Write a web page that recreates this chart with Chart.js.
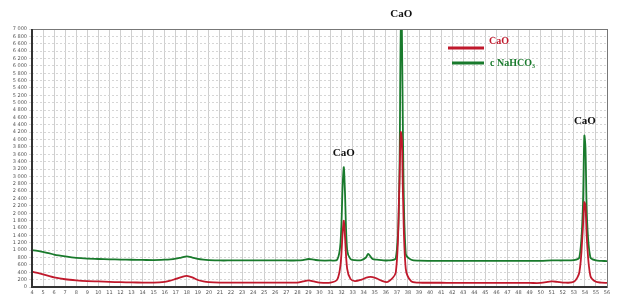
<!DOCTYPE html>
<html>
<head>
<meta charset="utf-8">
<script src="https://cdn.jsdelivr.net/npm/chart.js@4/dist/chart.umd.min.js"></script>
<style>
html,body{margin:0;padding:0;background:#fff;}
#wrap{width:625px;height:300px;position:relative;}
</style>
</head>
<body>
<div id="wrap"><canvas id="c" width="625" height="300"></canvas></div>
<script>
// 2-theta positions (degrees)
const twoTheta = [4,4.5,5,5.5,6,7,8,9,10,11,12,13,14,15,16,16.5,17,17.5,18,18.5,19,19.5,20,21,22,23,24,25,26,27,28,28.5,29,29.5,30,31,31.6,31.9,32.1,32.2,32.3,32.5,32.8,33.2,33.8,34.2,34.4,34.8,35.2,35.6,36.2,36.9,37.2,37.35,37.45,37.55,37.8,38.3,39,40,41,42,43,44,45,46,47,48,49,50,51,51.5,52,53,53.5,53.8,53.95,54.05,54.2,54.5,55,55.5,56];
// intensities: CaO (red)
const caO = [420,380,340,300,260,210,180,160,150,140,130,125,120,120,140,170,220,270,300,260,190,150,130,120,120,120,120,120,120,120,120,150,180,150,120,120,200,600,1500,1800,1400,500,220,160,200,250,270,270,230,170,140,400,2500,4200,4000,2500,500,150,120,115,115,110,110,110,110,110,110,110,110,110,150,140,120,140,400,1500,2300,2200,1200,300,140,120,110];
// intensities: c NaHCO3 (green)
const naHCO3 = [1000,980,950,920,880,830,790,770,760,750,745,740,735,730,740,750,770,800,830,800,760,740,730,720,720,720,720,720,720,720,720,730,760,740,720,720,740,1200,2800,3250,2600,1000,760,730,730,800,900,760,740,730,720,780,2500,7000,7000,4000,900,740,715,710,710,710,710,710,710,710,710,710,710,710,720,720,720,730,800,2000,4100,3800,1800,800,720,710,700];
const xTickLabels = ["4","5","6","7","8","9","10","11","12","13","14","15","16","17","18","19","20","21","22","23","24","25","26","27","28","29","30","31","32","33","34","35","36","37","38","39","40","41","42","43","44","45","46","47","48","49","50","51","52","53","54","55","56"];
const yTickLabels = ["0","200","400","600","800","1 000","1 200","1 400","1 600","1 800","2 000","2 200","2 400","2 600","2 800","3 000","3 200","3 400","3 600","3 800","4 000","4 200","4 400","4 600","4 800","5 000","5 200","5 400","5 600","5 800","6 000","6 200","6 400","6 600","6 800","7 000"];
const peakLabels = [{x:32.2,y:3250,text:"CaO"},{x:37.4,y:7000,text:"CaO"},{x:54.0,y:4100,text:"CaO"}];
const seriesNames = ["CaO","c NaHCO\u2083"];
const seriesColors = ["#c0192c","#197a2c"];

const extras = {
  id:'extras',
  afterDraw(chart){
    const ctx = chart.ctx, a = chart.chartArea;
    const xs = chart.scales.x, ys = chart.scales.y;
    ctx.save();
    // frame
    ctx.strokeStyle = '#777'; ctx.lineWidth = 1;
    ctx.strokeRect(a.left+0.5, a.top+0.5, a.right-a.left, a.bottom-a.top);
    ctx.strokeStyle = '#333'; ctx.lineWidth = 2;
    ctx.beginPath(); ctx.moveTo(a.left, a.top); ctx.lineTo(a.left, a.bottom); ctx.lineTo(a.right, a.bottom); ctx.stroke();
    // peak labels
    ctx.fillStyle = '#111';
    ctx.font = 'bold 11px "Liberation Serif", "DejaVu Serif", serif';
    ctx.textAlign = 'center'; ctx.textBaseline = 'bottom';
    peakLabels.forEach(p=>{
      const px = xs.getPixelForValue(p.x);
      let py = ys.getPixelForValue(p.y) - 9;
      ctx.fillText(p.text, px, py);
    });
    // legend
    ctx.textAlign = 'left'; ctx.textBaseline = 'middle';
    ctx.font = 'bold 10px "Liberation Serif", "DejaVu Serif", serif';
    const lx = a.left + 416, ly = a.top + 19;
    ctx.lineWidth = 3;
    ctx.strokeStyle = seriesColors[0];
    ctx.beginPath(); ctx.moveTo(lx, ly); ctx.lineTo(lx+36, ly); ctx.stroke();
    ctx.fillStyle = seriesColors[0];
    ctx.fillText(seriesNames[0], lx+41, ly-7);
    ctx.strokeStyle = seriesColors[1];
    ctx.beginPath(); ctx.moveTo(lx+4, ly+15); ctx.lineTo(lx+36, ly+15); ctx.stroke();
    ctx.fillStyle = seriesColors[1];
    ctx.fillText(seriesNames[1], lx+42, ly+15);
    ctx.restore();
  }
};

new Chart(document.getElementById('c'), {
  type:'line',
  data:{
    datasets:[
      {label:seriesNames[0], data: twoTheta.map((x,i)=>({x, y:caO[i]})), borderColor:seriesColors[0], borderWidth:1.8, pointRadius:0, tension:0.3},
      {label:seriesNames[1], data: twoTheta.map((x,i)=>({x, y:naHCO3[i]})), borderColor:seriesColors[1], borderWidth:1.8, pointRadius:0, tension:0.3}
    ]
  },
  options:{
    responsive:false, animation:false,
    layout:{padding:{top:29,right:18,left:2,bottom:0}},
    plugins:{legend:{display:false}, tooltip:{enabled:false}},
    scales:{
      x:{type:'linear', min:4, max:56,
        afterFit(s){ s.height = 13; },
        grid:{color:'#cfcfcf', lineWidth:1, drawTicks:false},
        border:{display:false},
        ticks:{stepSize:1, autoSkip:false, maxRotation:0, padding:3, color:'#555', font:{size:5, family:'DejaVu Sans'},
          callback:(v,i)=>xTickLabels[i]}
      },
      y:{type:'linear', min:0, max:7000,
        afterFit(s){ s.width = 30; },
        grid:{color:'#d6d6d6', lineWidth:1, drawTicks:true, tickLength:3},
        border:{display:false, dash:[2,2]},
        ticks:{stepSize:200, autoSkip:false, padding:2, color:'#555', font:{size:5, family:'DejaVu Sans'},
          callback:(v,i)=>yTickLabels[i]}
      }
    }
  },
  plugins:[extras]
});
</script>
</body>
</html>
